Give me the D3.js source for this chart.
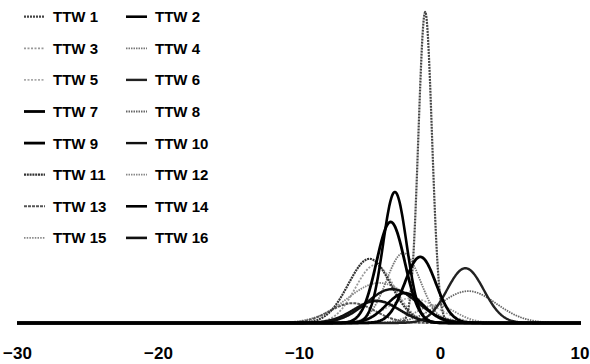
<!DOCTYPE html>
<html>
<head>
<meta charset="utf-8">
<script src="https://cdn.jsdelivr.net/npm/d3@7"></script>
<style>
  html, body { margin: 0; padding: 0; background: #fff; }
  svg { display: block; }
  text { font-family: "Liberation Sans", Arial, sans-serif; fill: #000; }
</style>
</head>
<body>
<svg id="chart" width="590" height="364"></svg>
<script>
// ---- data ----
const seriesNames = ["TTW 1","TTW 2","TTW 3","TTW 4","TTW 5","TTW 6","TTW 7","TTW 8",
                     "TTW 9","TTW 10","TTW 11","TTW 12","TTW 13","TTW 14","TTW 15","TTW 16"];
// centre of each distribution
const seriesMeans = [-1.05, -3.2, -4.6, -2.6, -2.0, 1.8, -3.5, 2.0,
                     -1.4, -3.4, -5.0, -4.3, -6.2, -2.5, -0.3, -4.5];
// spread of each distribution
const seriesSpreads = [0.48, 0.83, 1.4, 1.2, 1.8, 1.3, 1.0, 2.0,
                       1.1, 1.8, 1.5, 2.3, 1.6, 1.3, 1.4, 1.6];
// peak height of each distribution
const seriesPeaks = [0.80, 0.337, 0.149, 0.18, 0.064, 0.141, 0.26, 0.082,
                     0.17, 0.087, 0.165, 0.103, 0.051, 0.077, 0.046, 0.057];
const xTicks = [-30, -20, -10, 0, 10];
const xDomain = [-30, 10];

// ---- styles ----
const styles = [
  {c:"#444", w:2.2, d:"2,1"},   // 1
  {c:"#000", w:2.6, d:null},    // 2
  {c:"#999", w:1.8, d:"2,1.5"}, // 3
  {c:"#777", w:1.8, d:"1.5,1"}, // 4
  {c:"#aaa", w:1.6, d:"2,1.5"}, // 5
  {c:"#222", w:2.4, d:null},    // 6
  {c:"#000", w:2.8, d:null},    // 7
  {c:"#666", w:1.8, d:"1.5,1"}, // 8
  {c:"#000", w:2.8, d:null},    // 9
  {c:"#111", w:2.4, d:null},    // 10
  {c:"#333", w:2.2, d:"2,0.8"}, // 11
  {c:"#888", w:1.8, d:"1.5,1"}, // 12
  {c:"#555", w:2.0, d:"3,1"},   // 13
  {c:"#000", w:2.6, d:null},    // 14
  {c:"#888", w:1.8, d:"1.5,1.2"},// 15
  {c:"#111", w:2.6, d:null}     // 16
];

const svg = d3.select("#chart");
const x = d3.scaleLinear().domain(xDomain).range([17, 581]);
const y = d3.scaleLinear().domain([0, 0.8]).range([323, 12]);

const grid = d3.range(xDomain[0], xDomain[1] + 0.0001, 0.05);
const line = d3.line().x(d => x(d[0])).y(d => y(d[1]));

const series = seriesNames.map((name, i) => ({
  name,
  style: styles[i],
  pts: grid.map(v => {
    const z = (v - seriesMeans[i]) / seriesSpreads[i];
    return [v, seriesPeaks[i] * Math.exp(-0.5 * z * z)];
  })
}));

// draw lighter series first, black on top
const order = d3.range(series.length).sort((a, b) => {
  const la = d3.hsl(series[a].style.c).l, lb = d3.hsl(series[b].style.c).l;
  return lb - la;
});

svg.append("g").selectAll("path")
  .data(order.map(i => series[i]))
  .join("path")
  .attr("d", d => line(d.pts))
  .attr("fill", "none")
  .attr("stroke", d => d.style.c)
  .attr("stroke-width", d => d.style.w)
  .attr("stroke-dasharray", d => d.style.d)
  .attr("stroke-linejoin", "round");

// axis
const axis = d3.axisBottom(x).tickValues(xTicks).tickSize(0).tickFormat(d3.format("d"));
const gAxis = svg.append("g").attr("transform", "translate(0,323)").call(axis);
gAxis.select(".domain").remove();
gAxis.selectAll("text")
  .attr("y", 36).attr("dy", 0)
  .style("font-size", "17px")
  .style("font-weight", "bold")
  .style("font-family", "'Liberation Sans', Arial, sans-serif")
  .attr("fill", "#000");
// keep the last label inside the picture
gAxis.selectAll(".tick").filter(d => d === xTicks[xTicks.length - 1])
  .select("text").attr("text-anchor", "end").attr("x", 8);

// legend
const legend = svg.append("g");
series.forEach((s, i) => {
  const col = i % 2, row = Math.floor(i / 2);
  const cy = 16.7 + row * 31.6;
  const lx = col === 0 ? 24 : 126;
  const g = legend.append("g");
  g.append("line")
    .attr("x1", lx).attr("x2", lx + 21)
    .attr("y1", cy).attr("y2", cy)
    .attr("stroke", s.style.c)
    .attr("stroke-width", s.style.w)
    .attr("stroke-dasharray", s.style.d);
  g.append("text")
    .attr("x", lx + 29).attr("y", cy + 5.5)
    .style("font-size", "15px")
    .style("font-weight", "bold")
    .text(s.name);
});
</script>
</body>
</html>
